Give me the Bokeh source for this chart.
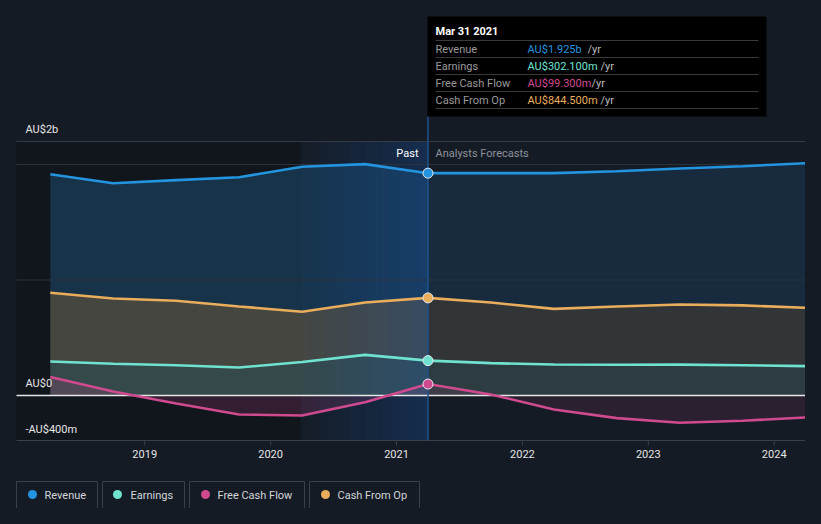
from bokeh.plotting import figure
from bokeh.models import Range1d
from bokeh.core.properties import value
from bokeh.embed import file_html
from bokeh.resources import INLINE

# ---------------- data (AU$ billions, x = fractional year) ----------------
past_dates = [2018.25, 2018.75, 2019.25, 2019.75, 2020.25, 2020.75, 2021.25]
fc_dates = [2021.25, 2021.75, 2022.25, 2022.75, 2023.25, 2023.75, 2024.25]

revenue_past = [1.916, 1.838, 1.865, 1.890, 1.980, 2.003, 1.925]
revenue_fc = [1.925, 1.925, 1.925, 1.942, 1.965, 1.985, 2.011]
earnings_past = [0.294, 0.275, 0.262, 0.242, 0.290, 0.352, 0.302]
earnings_fc = [0.302, 0.280, 0.268, 0.266, 0.267, 0.262, 0.254]
fcf_past = [0.160, 0.035, -0.069, -0.165, -0.173, -0.058, 0.099]
fcf_fc = [0.099, 0.009, -0.121, -0.196, -0.236, -0.219, -0.190]
cfo_past = [0.889, 0.840, 0.820, 0.771, 0.725, 0.805, 0.845]
cfo_fc = [0.845, 0.805, 0.750, 0.770, 0.788, 0.780, 0.759]

series_names = ["Revenue", "Earnings", "Free Cash Flow", "Cash From Op"]
series_colors = ["#2394df", "#6fe3d0", "#cf4a8e", "#e9ad5b"]
tooltip_date = "Mar 31 2021"
tooltip_values = ["AU$1.925b", "AU$302.100m", "AU$99.300m", "AU$844.500m"]
highlight_start = 2020.25
now_date = 2021.25
year_ticks = [2019, 2020, 2021, 2022, 2023, 2024]
year_labels = ["2019", "2020", "2021", "2022", "2023", "2024"]
grid_values = [1.0, 2.0]
y_labels = ["AU$2b", "AU$0", "-AU$400m"]

# ---------------- page geometry (page pixels) ----------------
BG = "#151b24"
W, H = 805, 508
ORIGIN = 0              # page pixel where the canvas starts
X0, XS = 396.0, 125.9   # page x of 2021.0, px per year
Y0, YS = 395.0, 115.5   # page y of 0, px per billion
PL, PR, PT, PB = 16, 805, 141, 440  # plot area


def dx(px):
    return 2021 + (px - X0) / XS


def dy(py):
    return (Y0 - py) / YS


p = figure(width=W, height=H, output_backend="svg", toolbar_location=None,
           x_axis_location=None, y_axis_location=None, min_border=0,
           background_fill_color=BG, border_fill_color=BG,
           outline_line_color=None,
           x_range=Range1d(dx(ORIGIN), dx(ORIGIN + W)),
           y_range=Range1d(dy(ORIGIN + H), dy(ORIGIN)))
p.grid.visible = False

FONT = value("Roboto")

# darker past background
p.quad(left=[dx(PL)], right=[dx(300)], top=[dy(PT)], bottom=[dy(PB)],
       fill_color="#11151c", line_color=None)

# ---------------- area bands ----------------
zeros_p = [0] * len(past_dates)
zeros_f = [0] * len(fc_dates)
p.varea(x=past_dates, y1=cfo_past, y2=revenue_past, fill_color="#17334a")
p.varea(x=past_dates, y1=earnings_past, y2=cfo_past, fill_color="#464640")
p.varea(x=past_dates, y1=zeros_p, y2=earnings_past, fill_color="#36494a")
p.varea(x=past_dates, y1=zeros_p, y2=fcf_past, fill_color="#cf4a8e", fill_alpha=0.18)

p.varea(x=fc_dates, y1=cfo_fc, y2=revenue_fc, fill_color="#182a3d")
p.varea(x=fc_dates, y1=earnings_fc, y2=cfo_fc, fill_color="#323537")
p.varea(x=fc_dates, y1=zeros_f, y2=earnings_fc, fill_color="#2c3c40")
p.varea(x=fc_dates, y1=zeros_f, y2=fcf_fc, fill_color="#cf4a8e", fill_alpha=0.12)

# past highlight gradient
n = 16
hl_l, hl_r = highlight_start, now_date
for i in range(n):
    a = hl_l + (hl_r - hl_l) * i / n
    b = hl_l + (hl_r - hl_l) * (i + 1) / n
    p.quad(left=[a], right=[b], top=[dy(PT)], bottom=[dy(PB)],
           fill_color="#1a5ab0", fill_alpha=0.04 + 0.26 * i / (n - 1), line_color=None)

# grid lines, frame top, zero line, x axis
p.segment(x0=[dx(PL)] * len(grid_values), x1=[dx(PR)] * len(grid_values),
          y0=grid_values, y1=grid_values, line_color="#2c323c", line_width=1)
p.segment(x0=[dx(PL)], x1=[dx(PR)], y0=[dy(PT)], y1=[dy(PT)],
          line_color="#343a44", line_width=1)
p.segment(x0=[dx(PL)], x1=[dx(PR)], y0=[0], y1=[0], line_color="#e6e6e6", line_width=1.5)
p.segment(x0=[dx(PL)], x1=[dx(PR)], y0=[dy(PB)], y1=[dy(PB)],
          line_color="#3a404a", line_width=1)
p.segment(x0=year_ticks, x1=year_ticks, y0=[dy(PB)] * len(year_ticks),
          y1=[dy(PB + 5)] * len(year_ticks), line_color="#3a404a", line_width=1)

# vertical "now" line
p.segment(x0=[now_date], x1=[now_date], y0=[dy(116)], y1=[dy(PB)],
          line_color="#1d5290", line_width=1.5)

# ---------------- lines ----------------
lines = [(revenue_past, revenue_fc), (earnings_past, earnings_fc),
         (fcf_past, fcf_fc), (cfo_past, cfo_fc)]
for (yp, yf), c in zip(lines, series_colors):
    p.line(x=past_dates, y=yp, line_color=c, line_width=2.6)
    p.line(x=fc_dates, y=yf, line_color=c, line_width=2.6)
for (yp, yf), c in zip(lines, series_colors):
    p.scatter(x=[now_date], y=[yp[-1]], size=10, fill_color=c,
              line_color="#e8e8e8", line_width=1)

# ---------------- texts ----------------
p.text(x=year_ticks, y=[dy(453)] * len(year_ticks), text=year_labels,
       text_font=FONT, text_font_size="11px", text_color="#e6e6e6",
       text_align="center", text_baseline="middle")
p.text(x=[dx(25)] * 3, y=[dy(129), dy(383), dy(429)], text=y_labels,
       text_font=FONT, text_font_size="11px", text_color="#e6e6e6",
       text_align="left", text_baseline="middle")
p.text(x=[dx(418)], y=[dy(153)], text=["Past"], text_font=FONT,
       text_font_size="11px", text_color="#ffffff", text_align="right",
       text_baseline="middle")
p.text(x=[dx(435)], y=[dy(153)], text=["Analysts Forecasts"], text_font=FONT,
       text_font_size="11px", text_color="#8c929b", text_align="left",
       text_baseline="middle")

# ---------------- tooltip ----------------
p.quad(left=[dx(427)], right=[dx(766)], top=[dy(16)], bottom=[dy(116)],
       fill_color="#000000", line_color=None)
p.text(x=[dx(435)], y=[dy(31)], text=[tooltip_date], text_font=FONT,
       text_font_size="11px", text_font_style="bold", text_color="#ffffff",
       text_align="left", text_baseline="middle")
sep_y = [40, 57, 74, 91, 108]
p.segment(x0=[dx(435)] * 5, x1=[dx(758)] * 5, y0=[dy(v) for v in sep_y],
          y1=[dy(v) for v in sep_y], line_color="#3a3a3a", line_width=1)
row_y = [48.5, 65.5, 82.5, 99.5]
yr_x = [587, 600, 591, 600]
p.text(x=[dx(435)] * 4, y=[dy(v) for v in row_y], text=series_names,
       text_font=FONT, text_font_size="11px", text_color="#9a9a9a",
       text_align="left", text_baseline="middle")
p.text(x=[dx(527)] * 4, y=[dy(v) for v in row_y], text=tooltip_values,
       text_font=FONT, text_font_size="11px", text_color=series_colors,
       text_align="left", text_baseline="middle")
p.text(x=[dx(v) for v in yr_x], y=[dy(v) for v in row_y], text=["/yr"] * 4,
       text_font=FONT, text_font_size="11px", text_color="#bdbdbd",
       text_align="left", text_baseline="middle")

# ---------------- legend ----------------
box_l = [16, 102, 189, 309]
box_r = [97, 184, 304, 419]
dot_x = [32, 117, 205, 325]
txt_x = [44, 130, 217, 337]
p.quad(left=[dx(v) for v in box_l], right=[dx(v) for v in box_r],
       top=[dy(481)] * 4, bottom=[dy(508)] * 4, fill_color=None,
       line_color="#3b414b", line_width=1)
p.scatter(x=[dx(v) for v in dot_x], y=[dy(494)] * 4, size=9,
          fill_color=series_colors, line_color=None)
p.text(x=[dx(v) for v in txt_x], y=[dy(494.5)] * 4, text=series_names,
       text_font=FONT, text_font_size="11px", text_color="#d2d6db",
       text_align="left", text_baseline="middle")

html = file_html(p, INLINE)
html = html.replace("<head>", "<head><style>body{background:%s;}</style>" % BG, 1)
open("out.html", "w").write(html)
